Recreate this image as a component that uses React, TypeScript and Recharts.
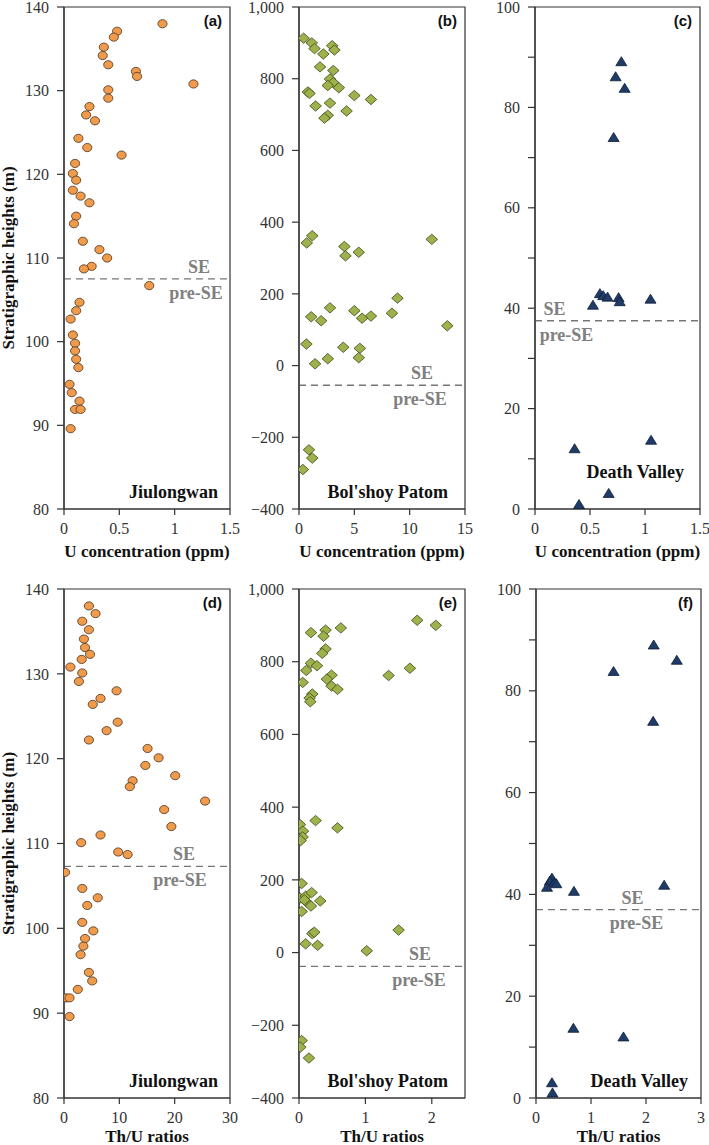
import React from 'react';
import { ScatterChart, Scatter, XAxis, YAxis, ReferenceLine, ReferenceArea, Label } from 'recharts';

// (a) Jiulongwan: U concentration (ppm) vs height (m)
const aHeight = [138.0, 137.1, 136.4, 135.2, 134.2, 133.1, 132.3, 131.7, 130.8, 130.1, 129.1, 128.1, 127.1, 126.4, 124.3, 123.2, 122.3, 121.3, 120.1, 119.3, 118.1, 117.4, 116.6, 115.0, 114.1, 112.0, 111.0, 110.0, 109.0, 108.7, 106.7, 104.7, 103.7, 102.7, 100.8, 99.8, 98.9, 97.9, 96.9, 94.9, 93.9, 92.9, 91.9, 91.9, 89.6];
const aU = [0.89, 0.48, 0.45, 0.36, 0.35, 0.4, 0.65, 0.66, 1.17, 0.4, 0.4, 0.23, 0.2, 0.28, 0.13, 0.21, 0.52, 0.1, 0.08, 0.11, 0.08, 0.15, 0.23, 0.11, 0.09, 0.17, 0.32, 0.39, 0.25, 0.18, 0.77, 0.14, 0.11, 0.06, 0.08, 0.1, 0.1, 0.11, 0.13, 0.05, 0.07, 0.14, 0.1, 0.15, 0.06];

// (b) Bol'shoy Patom: U concentration (ppm) vs height (m)
const bHeight = [913, 900, 884, 892, 880, 869, 833, 823, 799, 789, 781, 775, 763, 759, 753, 742, 732, 724, 710, 698, 690, 342, 362, 332, 306, 316, 352, 188, 161, 153, 136, 146, 138, 132, 125, 111, 60, 51, 48, 19, 22, 5, -235, -258, -290];
const bU = [0.42, 1.15, 1.4, 3.0, 3.2, 2.2, 1.9, 3.1, 2.8, 3.1, 2.6, 3.6, 0.8, 0.95, 5.0, 6.5, 2.8, 1.5, 4.3, 2.6, 2.3, 0.7, 1.2, 4.1, 4.2, 5.4, 12.0, 8.9, 2.8, 5.0, 1.1, 8.4, 6.5, 5.7, 2.0, 13.4, 0.67, 4.0, 5.5, 2.6, 5.4, 1.45, 0.9, 1.2, 0.35];

// (c) Death Valley: U concentration (ppm) vs height (m)
const cHeight = [89.1, 86.1, 83.8, 74.0, 42.9, 42.5, 42.2, 42.1, 41.3, 41.8, 40.6, 12.0, 13.7, 3.1, 0.9];
const cU = [0.785, 0.733, 0.815, 0.715, 0.59, 0.62, 0.66, 0.76, 0.77, 1.05, 0.527, 0.36, 1.055, 0.67, 0.4];

// (d) Jiulongwan: Th/U vs height (m)
const dHeight = [138.0, 137.1, 136.2, 135.2, 134.1, 133.1, 132.3, 131.7, 130.8, 130.1, 129.1, 128.0, 127.1, 126.4, 124.3, 123.3, 122.2, 121.2, 120.1, 119.2, 118.0, 117.4, 116.7, 115.0, 114.0, 112.0, 111.0, 110.1, 109.0, 108.7, 106.6, 104.7, 103.6, 102.7, 100.7, 99.7, 98.8, 97.9, 96.9, 94.8, 93.8, 92.8, 91.8, 91.8, 89.6];
const dThU = [4.5, 5.7, 3.3, 4.5, 3.6, 3.8, 4.7, 3.2, 1.15, 3.3, 2.7, 9.5, 6.6, 5.2, 9.7, 7.7, 4.5, 15.1, 17.1, 14.7, 20.1, 12.4, 11.9, 25.5, 18.1, 19.4, 6.6, 3.1, 9.8, 11.5, 0.2, 3.3, 6.1, 4.2, 3.3, 5.3, 3.8, 3.5, 3.0, 4.5, 5.1, 2.5, 0.4, 1.0, 1.0];

// (e) Bol'shoy Patom: Th/U vs height (m)
const eHeight = [914, 900, 880, 887, 893, 870, 835, 823, 796, 789, 776, 782, 763, 752, 743, 762, 733, 724, 711, 700, 690, 352, 363, 343, 334, 318, 308, 190, 150, 155, 165, 142, 138, 128, 113, 145, 52, 56, 24, 20, 62, 5, -242, -260, -290];
const eThU = [1.78, 2.06, 0.18, 0.4, 0.63, 0.37, 0.4, 0.35, 0.18, 0.27, 0.11, 1.67, 0.49, 0.42, 0.055, 1.35, 0.49, 0.58, 0.2, 0.16, 0.17, 0.015, 0.25, 0.58, 0.06, 0.055, 0.025, 0.04, 0.015, 0.1, 0.19, 0.32, 0.12, 0.18, 0.04, 0.08, 0.2, 0.23, 0.1, 0.28, 1.5, 1.02, 0.04, 0.02, 0.15];

// (f) Death Valley: Th/U vs height (m)
const fHeight = [89.0, 86.0, 83.8, 74.0, 43.2, 42.6, 42.3, 42.1, 41.4, 41.8, 40.6, 13.7, 12.0, 3.0, 1.0];
const fThU = [2.14, 2.56, 1.41, 2.13, 0.29, 0.25, 0.33, 0.37, 0.2, 2.33, 0.69, 0.68, 1.59, 0.29, 0.3];

const jiuTicks = [80, 90, 100, 110, 120, 130, 140];
const patomTicks = [-400, -200, 0, 200, 400, 600, 800, 1000];
const valleyTicks = [0, 10, 20, 30, 40, 50, 60, 70, 80, 90, 100];

const SERIF = '"Liberation Serif", "Times New Roman", serif';
const SANS = '"Liberation Sans", Arial, sans-serif';
const AXIS = '#333';

const toPoints = (xs: number[], ys: number[]) => ys.map((y, i) => ({ x: xs[i], y }));

const circleMark = (p: any) => (
  <ellipse cx={p.cx} cy={p.cy} rx={4.6} ry={4.1} fill="#EF9B4B" stroke="#4B3320" strokeWidth={0.8} />
);
const diamondMark = (p: any) => (
  <path
    d={`M${p.cx},${p.cy - 5.2} L${p.cx + 5.8},${p.cy} L${p.cx},${p.cy + 5.2} L${p.cx - 5.8},${p.cy} Z`}
    fill="#9DB24B"
    stroke="#3E481C"
    strokeWidth={0.8}
  />
);
const triangleMark = (p: any) => (
  <path
    d={`M${p.cx},${p.cy - 5} L${p.cx + 5.5},${p.cy + 4} L${p.cx - 5.5},${p.cy + 4} Z`}
    fill="#1F3C68"
    stroke="#0E1C33"
    strokeWidth={0.8}
  />
);

const fmtPatom = (v: number) => (v === 1000 ? '1,000' : v < 0 ? '\u2212' + Math.abs(v) : String(v));
const fmtValley = (v: number) => (v % 20 === 0 ? String(v) : '');

const U_TITLE = 'U concentration (ppm)';
const THU_TITLE = 'Th/U ratios';

// two rows of panels
const TOP_ROW = 7;
const TOP_H = 502;
const BOTTOM_ROW = 589;
const BOTTOM_H = 509;

const panels = [
  { letter: '(a)', place: 'Jiulongwan', left: 64, top: TOP_ROW, w: 166, h: TOP_H, xDomain: [0, 1.5], xTicks: [0, 0.5, 1, 1.5], yDomain: [80, 140], yTicks: jiuTicks, fmt: String, data: toPoints(aU, aHeight), shape: circleMark, se: 107.5, seDx: 52, preDx: 49, placeDx: -1, placeDy: 0, xTitle: U_TITLE, yTitle: true, titleOff: 12 },
  { letter: '(b)', place: "Bol'shoy Patom", left: 299, top: TOP_ROW, w: 166, h: TOP_H, xDomain: [0, 15], xTicks: [0, 5, 10, 15], yDomain: [-400, 1000], yTicks: patomTicks, fmt: fmtPatom, data: toPoints(bU, bHeight), shape: diamondMark, se: -55, seDx: 40, preDx: 38, placeDx: -6, placeDy: 0, xTitle: U_TITLE, yTitle: false, titleOff: 12 },
  { letter: '(c)', place: 'Death Valley', left: 535, top: TOP_ROW, w: 165, h: TOP_H, xDomain: [0, 1.5], xTicks: [0, 0.5, 1, 1.5], yDomain: [0, 100], yTicks: valleyTicks, fmt: fmtValley, data: toPoints(cU, cHeight), shape: triangleMark, se: 37.5, seDx: -63, preDx: -51, placeDx: -5, placeDy: -20, xTitle: U_TITLE, yTitle: false, titleOff: 12 },
  { letter: '(d)', place: 'Jiulongwan', left: 64, top: BOTTOM_ROW, w: 166, h: BOTTOM_H, xDomain: [0, 30], xTicks: [0, 10, 20, 30], yDomain: [80, 140], yTicks: jiuTicks, fmt: String, data: toPoints(dThU, dHeight), shape: circleMark, se: 107.3, seDx: 37, preDx: 33, placeDx: -1, placeDy: 0, xTitle: THU_TITLE, yTitle: true, titleOff: 16 },
  { letter: '(e)', place: "Bol'shoy Patom", left: 299, top: BOTTOM_ROW, w: 166, h: BOTTOM_H, xDomain: [0, 2.5], xTicks: [0, 1, 2], yDomain: [-400, 1000], yTicks: patomTicks, fmt: fmtPatom, data: toPoints(eThU, eHeight), shape: diamondMark, se: -38, seDx: 38, preDx: 37, placeDx: -6, placeDy: 0, xTitle: THU_TITLE, yTitle: false, titleOff: 16 },
  { letter: '(f)', place: 'Death Valley', left: 536, top: BOTTOM_ROW, w: 165, h: BOTTOM_H, xDomain: [0, 3], xTicks: [0, 1, 2, 3], yDomain: [0, 100], yTicks: valleyTicks, fmt: fmtValley, data: toPoints(fThU, fHeight), shape: triangleMark, se: 37, seDx: 14, preDx: 18, placeDx: -2, placeDy: 0, xTitle: THU_TITLE, yTitle: false, titleOff: 16 },
];

const Y_W = 64;
const M_TOP = 10;
const M_RIGHT = 10;
const X_H = 60;

function Panel({ p }: { p: (typeof panels)[number] }) {
  const width = Y_W + p.w + M_RIGHT;
  const height = M_TOP + p.h + X_H;
  return (
    <div style={{ position: 'absolute', left: p.left - Y_W, top: p.top - M_TOP, width, height }}>
      <ScatterChart width={width} height={height} margin={{ top: M_TOP, right: M_RIGHT, bottom: 0, left: 0 }}>
        <XAxis
          type="number"
          dataKey="x"
          domain={p.xDomain}
          ticks={p.xTicks}
          interval={0}
          allowDataOverflow
          height={X_H}
          tickSize={6}
          tickMargin={8}
          axisLine={{ stroke: AXIS, strokeWidth: 1.2 }}
          tickLine={{ stroke: AXIS, strokeWidth: 1.2 }}
          tick={{ fill: '#333', fontSize: 16, fontFamily: SERIF }}
          label={{ value: p.xTitle, position: 'insideBottom', offset: p.titleOff, fill: '#111', fontSize: 17, fontWeight: 'bold', fontFamily: SERIF }}
        />
        <YAxis
          type="number"
          dataKey="y"
          domain={p.yDomain}
          ticks={p.yTicks}
          interval={0}
          allowDataOverflow
          width={Y_W}
          tickSize={7}
          tickMargin={8}
          tickFormatter={p.fmt}
          axisLine={{ stroke: AXIS, strokeWidth: 1.2 }}
          tickLine={{ stroke: AXIS, strokeWidth: 1.2 }}
          tick={{ fill: '#333', fontSize: 16, fontFamily: SERIF }}
          label={
            p.yTitle
              ? { value: 'Stratigraphic heights (m)', angle: -90, position: 'insideLeft', offset: 8, fill: '#111', fontSize: 17, fontWeight: 'bold', fontFamily: SERIF, style: { textAnchor: 'middle' } }
              : undefined
          }
        />
        <ReferenceArea
          x1={p.xDomain[0]}
          x2={p.xDomain[1]}
          y1={p.yDomain[0]}
          y2={p.yDomain[1]}
          fill="none"
          stroke={AXIS}
          strokeWidth={1.2}
          ifOverflow="visible"
        >
          <Label value={p.letter} position="insideTopRight" offset={8} fill="#111" fontSize={15} fontWeight="bold" fontFamily={SANS} />
          <Label value={p.place} position="insideBottomRight" offset={11} dx={p.placeDx} dy={p.placeDy} fill="#111" fontSize={18} fontWeight="bold" fontFamily={SERIF} />
        </ReferenceArea>
        <ReferenceLine y={p.se} stroke="#777" strokeWidth={1.4} strokeDasharray="7 5" ifOverflow="visible">
          <Label value="SE" position="top" offset={6} dx={p.seDx} fill="#808080" fontSize={18} fontWeight="bold" fontFamily={SERIF} />
          <Label value="pre-SE" position="bottom" offset={7} dx={p.preDx} fill="#808080" fontSize={18} fontWeight="bold" fontFamily={SERIF} />
        </ReferenceLine>
        <Scatter data={p.data} shape={p.shape} isAnimationActive={false} />
      </ScatterChart>
    </div>
  );
}

export default function App() {
  return (
    <div style={{ position: 'absolute', left: 0, top: 0, width: 709, height: 1145, background: '#fff', overflow: 'hidden' }}>
      {panels.map((p) => (
        <Panel key={p.letter} p={p} />
      ))}
    </div>
  );
}
